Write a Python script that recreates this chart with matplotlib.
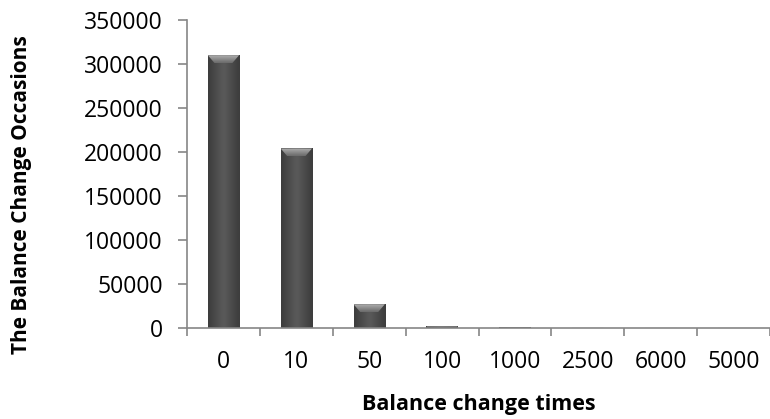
import matplotlib
matplotlib.use("Agg")
import matplotlib.pyplot as plt
import numpy as np
from matplotlib.patches import Polygon

categories = ["0", "10", "50", "100", "1000", "2500", "6000", "5000"]
occasions = [310000, 204000, 27000, 2500, 800, 300, 200, 100]
y_ticks = [0, 50000, 100000, 150000, 200000, 250000, 300000, 350000]

plt.rcParams['font.family'] = ['Open Sans', 'DejaVu Sans']

W, H = 770, 419
fig = plt.figure(figsize=(W / 100, H / 100), dpi=100)
ax = fig.add_axes([187 / W, 1 - 328 / H, 583 / W, 308 / H])

x = np.arange(len(categories))
bar_w = 0.43
bars = ax.bar(x, occasions, width=bar_w, color='#4e4e4e', edgecolor='none', zorder=2)

ymax = 350000
ax.set_xlim(-0.5, len(categories) - 0.5)
ax.set_ylim(0, ymax)

# shading on bars
px_per_unit = 308 / ymax
grad = np.concatenate([np.linspace(0.24, 0.35, 8), np.linspace(0.35, 0.24, 8)])
grad_img = np.tile(grad, (2, 1))
for rect, h in zip(bars, occasions):
    x0 = rect.get_x()
    x1 = x0 + rect.get_width()
    im = ax.imshow(grad_img, extent=[x0, x1, 0, h], aspect='auto', cmap='gray',
                   vmin=0, vmax=1, zorder=2.5, interpolation='bicubic')
    im.set_clip_path(rect)
    # top bevel
    bh = min(8 / px_per_unit, h * 0.4)
    inset = rect.get_width() * 0.22 * (bh / (8 / px_per_unit))
    poly = Polygon([[x0, h], [x1, h], [x1 - inset, h - bh], [x0 + inset, h - bh]],
                   closed=True, facecolor='none', edgecolor='none', zorder=3)
    ax.add_patch(poly)
    vgrad = np.linspace(0.68, 0.42, 16).reshape(-1, 1)
    im2 = ax.imshow(vgrad, extent=[x0, x1, h - bh, h], aspect='auto', cmap='gray',
                    vmin=0, vmax=1, zorder=3, interpolation='bicubic', origin='upper')
    im2.set_clip_path(poly)

ax.set_xlim(-0.5, len(categories) - 0.5)
ax.set_ylim(0, ymax)

axis_grey = '#868686'
for s in ['top', 'right']:
    ax.spines[s].set_visible(False)
for s in ['left', 'bottom']:
    ax.spines[s].set_color(axis_grey)
    ax.spines[s].set_linewidth(1.2)

ax.set_yticks(y_ticks)
ax.set_yticklabels([str(v) for v in y_ticks])
ax.set_xticks(x)
ax.set_xticklabels(categories)
ax.set_xticks(np.arange(-0.5, len(categories) + 0.5, 1), minor=True)

ax.tick_params(axis='y', which='major', direction='out', length=6.5, width=1.2,
               color=axis_grey, labelsize=16.5, pad=11, labelcolor='black')
ax.tick_params(axis='x', which='major', length=0, labelsize=16.5, pad=16, labelcolor='black')
ax.tick_params(axis='x', which='minor', direction='out', length=5.5, width=1.2, color=axis_grey)

ax.set_xlabel('Balance change times', fontsize=15.5, fontweight='bold', va='center')
ax.xaxis.set_label_coords(0.5, (328 - 404) / 308)
ax.set_ylabel('The Balance Change Occasions', fontsize=15, fontweight='bold', va='center')
ax.yaxis.set_label_coords((22 - 187) / 583, (328 - 195) / 308)

fig.savefig('out.png', dpi=100)
